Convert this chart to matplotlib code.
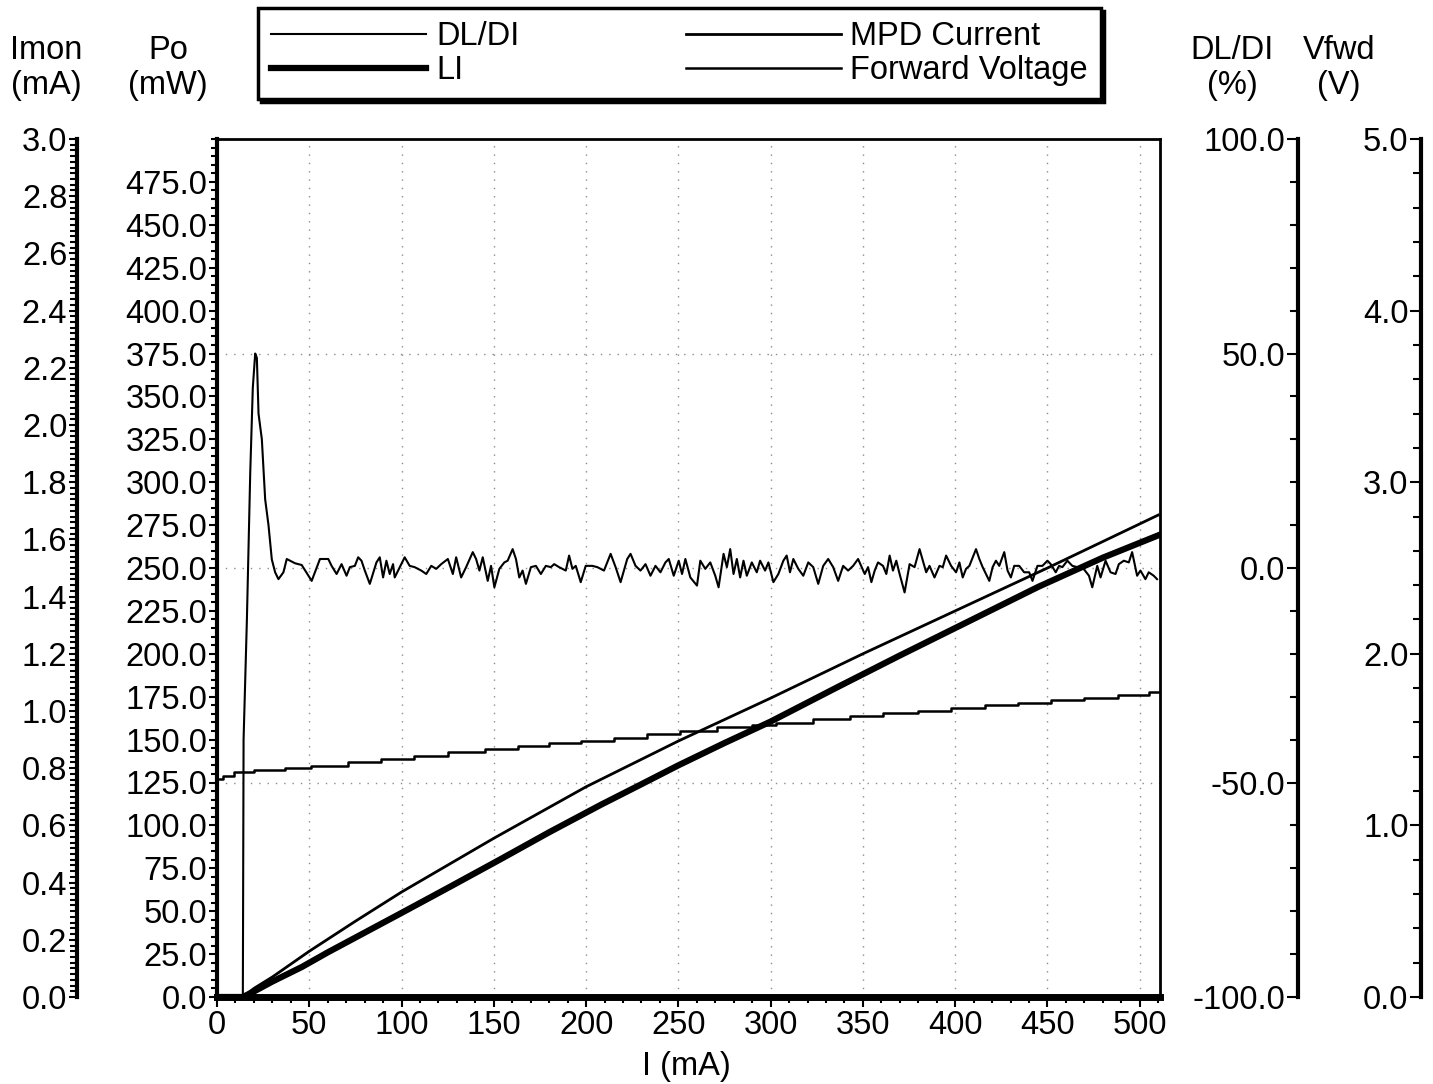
import matplotlib
matplotlib.use("Agg")
import matplotlib.pyplot as plt
import numpy as np
from matplotlib.ticker import MultipleLocator, FormatStrFormatter

plt.rcParams['font.family'] = ['Liberation Sans', 'DejaVu Sans']

# DL/DI (%) vs I (mA)
dldi_current = [0, 14.0, 14.4, 16.2, 18.0, 19.4, 20.7, 21.6, 22.5, 24.3, 26.1, 27.9, 29.7, 31.5, 33.3, 36.0,
                37.8, 42.3, 45.9, 51.3, 55.8, 60.3, 62.1, 64.8, 67.5, 70.2, 72.0, 74.7, 76.5, 78.3, 80.1,
                82.8, 86.4, 88.2, 90.0, 91.8, 93.6, 95.4, 96.3, 101.7, 104.4, 107.1, 110.7, 113.4, 116.1,
                118.8, 121.5, 125.1, 127.8, 129.6, 132.3, 135.0, 138.6, 140.4, 142.2, 144.0, 146.7, 148.5,
                150.3, 153.0, 155.7, 157.5, 160.2, 162.0, 163.8, 165.6, 167.4, 170.1, 172.8, 175.5, 178.2,
                180.9, 182.7, 185.4, 189.0, 190.8, 192.6, 194.4, 197.1, 199.8, 203.4, 206.1, 209.7, 213.3,
                216.0, 218.7, 222.3, 224.1, 226.8, 229.5, 232.2, 234.9, 237.6, 240.3, 243.0, 244.8, 247.5,
                250.2, 252.0, 253.8, 256.5, 260.1, 261.9, 264.6, 267.3, 270.0, 271.8, 274.5, 276.3, 278.1,
                279.9, 281.7, 283.5, 285.3, 287.1, 289.8, 292.5, 294.3, 297.0, 298.8, 301.5, 304.2, 306.9,
                308.7, 310.5, 312.3, 315.0, 317.7, 320.4, 323.1, 325.8, 328.5, 331.2, 333.9, 336.6, 339.3,
                342.0, 344.7, 347.4, 351.0, 352.8, 354.6, 356.4, 358.2, 360.9, 362.7, 364.5, 366.3, 368.1,
                369.9, 372.6, 375.3, 378.0, 380.7, 382.5, 384.3, 386.1, 388.8, 391.5, 393.3, 395.1, 397.8,
                400.5, 402.3, 404.1, 405.9, 407.7, 411.3, 413.1, 414.9, 416.7, 418.5, 420.3, 422.1, 423.9,
                426.6, 428.4, 430.2, 432.0, 434.7, 437.4, 440.1, 441.9, 444.6, 447.3, 450.0, 451.8, 454.5,
                456.3, 458.1, 460.8, 463.5, 466.2, 468.9, 472.5, 474.3, 477.0, 478.8, 481.5, 484.2, 486.9,
                488.7, 491.4, 494.1, 495.9, 498.6, 500.4, 503.1, 504.9, 507.6, 509.4]
dldi_pct = [-100, -100, -40, -12, 22, 42, 50, 49, 36, 30, 16, 10, 2, -1.0, -2.6, -1.0,
            2.1, 1.1, 0.7, -3.0, 2.1, 2.1, 0.5, -1.4, 0.9, -1.8, 0.2, 0.5, 2.5, 1.7, -0.6,
            -3.7, 1.3, 2.5, -2.2, 1.7, -1.4, 0.9, -2.2, 2.5, 0.5, 0.2, -0.6, -1.4, 0.5,
            -0.2, 0.9, 2.1, -1.4, 2.5, -2.2, 0.2, 3.7, 2.1, -0.6, 2.5, -3.0, 0.5,
            -4.5, -0.2, 1.3, 1.7, 4.4, 2.1, -2.2, -0.6, -3.7, 0.2, 0.5, -1.4, 0.5,
            0.2, 0.9, 0.2, -0.6, 2.9, -0.2, 0.5, -3.3, 0.5, 0.5, 0.2, -0.6, 3.3,
            0.2, -3.3, 2.1, 3.3, 0.5, -0.6, 0.9, -1.8, 0.5, -1.0, 1.3, 2.1, -1.8,
            1.7, -1.4, 2.1, -2.2, -4.1, 1.7, -0.2, 1.3, -1.8, -4.5, 3.3, 0.2, 4.4,
            -1.4, 2.1, -2.2, 1.7, -1.8, 1.3, -1.0, 1.7, -0.6, 1.3, -3.3, -1.4, 1.7,
            2.9, -1.0, 2.1, -0.2, -1.8, 1.3, 0.2, -3.7, 0.5, 2.1, 0.2, -3.0, 0.5,
            -0.6, 0.5, 2.1, -1.4, 0.2, -3.3, -0.6, 1.3, 0.5, -1.4, 2.9, -0.6, 1.7,
            -1.4, -5.7, 0.9, 0.2, 4.4, 1.7, -1.0, 0.5, -2.2, 0.5, 0.2, 2.9, 0.5,
            -1.0, 1.3, -2.2, -0.2, 0.5, 4.4, 2.1, 0.2, -1.4, -3.0, 0.2, 1.7, 0.5,
            3.7, -0.6, -2.2, 0.5, 0.5, -1.0, -1.0, -3.0, 0.5, 0.5, 1.7, 0.9, -1.0,
            0.5, 0.2, 1.7, 0.5, 0.2, 0.2, -1.8, -4.5, 0.5, -2.2, 1.7, -1.0, -1.4,
            0.9, 1.7, 1.3, 3.7, -1.8, -0.6, -2.6, -1.0, -1.8, -2.6]

# LI: optical power Po (mW)
li_current = [0, 14, 20, 30, 46, 60, 80, 100, 125, 154, 180, 208, 230, 250, 275, 300, 337, 370, 400, 445, 480, 510]
li_power = [0, 0, 3.2, 9, 17.5, 26, 37.5, 49, 63.5, 80.5, 96, 112, 124, 135, 148, 160.5, 181, 199, 215, 239, 256, 269]

# MPD current, Imon (mA)
mpd_current = [0, 14, 20, 30, 50, 75, 100, 150, 200, 250, 300, 350, 400, 450, 510]
mpd_ma = [0, 0, 0.03, 0.07, 0.16, 0.265, 0.367, 0.555, 0.735, 0.895, 1.045, 1.2, 1.35, 1.5, 1.685]

# forward voltage Vfwd (V), stepped readout
vf_current = [0, 3, 9, 20, 37, 51, 71, 89, 107, 125, 145, 163, 180, 197, 215, 233, 251, 271, 290, 303,
              323, 343, 361, 380, 398, 416, 434, 452, 470, 488, 505, 511]
vf_volt = [1.27, 1.29, 1.31, 1.325, 1.335, 1.348, 1.368, 1.387, 1.406, 1.426, 1.445, 1.462, 1.478, 1.494,
           1.512, 1.533, 1.552, 1.572, 1.585, 1.597, 1.62, 1.639, 1.655, 1.668, 1.684, 1.70, 1.715, 1.73,
           1.745, 1.76, 1.775, 1.78]

FS = 23.5

fig = plt.figure(figsize=(14.33, 10.84), dpi=100)
ax = fig.add_axes([217 / 1433, 87 / 1084, 943 / 1433, 858 / 1084])

ax.set_xlim(0, 511)
ax.set_ylim(0, 500)
ax.set_xticks(range(0, 501, 50))
ax.xaxis.set_minor_locator(MultipleLocator(10))
ax.set_yticks(np.arange(0, 476, 25))
ax.yaxis.set_minor_locator(MultipleLocator(5))
ax.yaxis.set_major_formatter(FormatStrFormatter('%.1f'))
ax.tick_params(axis='x', which='major', length=7, width=1.5, pad=2, labelsize=FS)
ax.tick_params(axis='x', which='minor', length=4, width=1.5)
ax.tick_params(axis='y', which='major', length=6, width=1.5, pad=1, labelsize=FS)
ax.tick_params(axis='y', which='minor', length=4, width=1.5)
ax.spines['left'].set_linewidth(3)
ax.spines['bottom'].set_linewidth(5)
ax.spines['top'].set_linewidth(2)
ax.spines['right'].set_linewidth(2)

# faint dotted grid
for gx in range(50, 501, 50):
    ax.axvline(gx, color='0.55', lw=1, ls=(0, (1, 5)), zorder=0)
for gy in [125, 250, 375]:
    ax.axhline(gy, color='0.55', lw=1, ls=(0, (1, 5)), zorder=0)


def side_axis(pos, lo, hi, major, minor, fmt, major_len, minor_len):
    t = ax.twinx()
    for s in t.spines.values():
        s.set_visible(False)
    t.spines['left'].set_visible(True)
    t.spines['left'].set_position(('axes', pos))
    t.spines['left'].set_linewidth(3)
    t.yaxis.set_ticks_position('left')
    t.yaxis.set_label_position('left')
    t.set_ylim(lo, hi)
    t.yaxis.set_major_locator(MultipleLocator(major))
    t.yaxis.set_minor_locator(MultipleLocator(minor))
    t.yaxis.set_major_formatter(FormatStrFormatter(fmt))
    t.tick_params(axis='y', which='major', length=major_len, width=1.5, pad=1, labelsize=FS)
    t.tick_params(axis='y', which='minor', length=minor_len, width=1.5)
    return t


ax_im = side_axis((77 - 217) / 943, 0, 3.0, 0.2, 0.02, '%.1f', 6, 5)
ax_dl = side_axis((1298 - 217) / 943, -100, 100, 50, 10, '%.1f', 8, 6)
ax_vf = side_axis((1421 - 217) / 943, 0, 5.0, 1.0, 0.2, '%.1f', 8, 6)

l_vf, = ax_vf.plot(vf_current, vf_volt, color='black', lw=1.8, drawstyle='steps-post')
l_mpd, = ax_im.plot(mpd_current, mpd_ma, color='black', lw=2.0)
l_li, = ax.plot(li_current, li_power, color='black', lw=4.5)
l_dl, = ax_dl.plot(dldi_current, dldi_pct, color='black', lw=1.5)

fig.legend([l_dl, l_li, l_mpd, l_vf], ['DL/DI', 'LI', 'MPD Current', 'Forward Voltage'],
           loc='upper left', bbox_to_anchor=(258 / 1433, 1 - 8 / 1084), ncol=2,
           fontsize=FS, handlelength=4.75, handletextpad=0.3, columnspacing=5.1,
           labelspacing=0.1, borderpad=0.4, borderaxespad=0, frameon=True, fancybox=False,
           edgecolor='black', framealpha=1, shadow={'color': 'black', 'alpha': 1})
fig.legends[0].get_frame().set_linewidth(2.5)

fig.text(46 / 1433, 1 - 68 / 1084, 'Imon\n(mA)', ha='center', va='center', fontsize=FS, linespacing=1.15)
fig.text(168 / 1433, 1 - 68 / 1084, 'Po\n(mW)', ha='center', va='center', fontsize=FS, linespacing=1.15)
fig.text(1232 / 1433, 1 - 68 / 1084, 'DL/DI\n(%)', ha='center', va='center', fontsize=FS, linespacing=1.15)
fig.text(1339 / 1433, 1 - 68 / 1084, 'Vfwd\n(V)', ha='center', va='center', fontsize=FS, linespacing=1.15)
fig.text(686 / 1433, 1 - 1067 / 1084, 'I (mA)', ha='center', va='center', fontsize=FS)

fig.savefig('out.png', dpi=100)
